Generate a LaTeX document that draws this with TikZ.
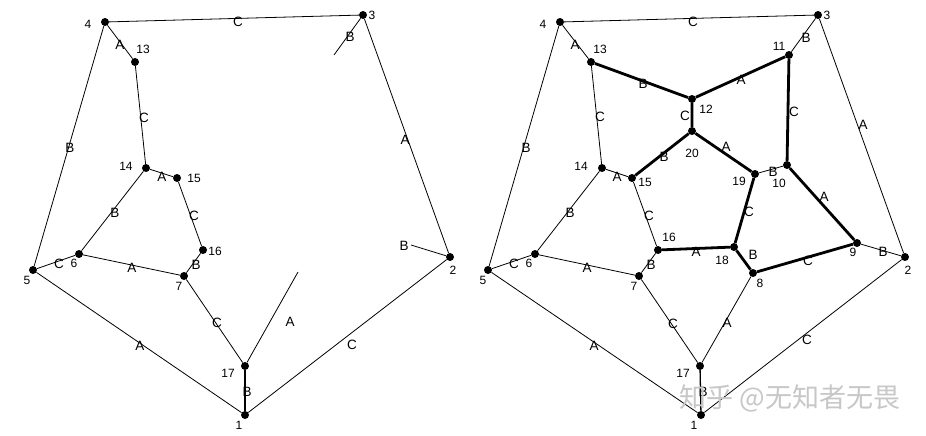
\documentclass[tikz,border=0pt]{standalone}
\usepackage{fontspec}
\setmainfont{Liberation Sans}
\newfontfamily\cjkfont{Noto Sans CJK SC}
\begin{document}
\begin{tikzpicture}[x=1pt,y=-1pt,
  dot/.style={circle,fill=black,inner sep=0pt,minimum size=8pt},
  thin/.style={line width=0.8pt},
  thick3/.style={line width=2.8pt},
  lbl/.style={font=\fontsize{13.5}{14}\selectfont,inner sep=0pt},
  num/.style={font=\fontsize{12}{13}\selectfont,inner sep=0pt}]
\fill[white] (0,0) rectangle (926,436);
\useasboundingbox (0,0) rectangle (926,436);
% ---------------- left graph ----------------
\foreach \n/\x/\y in {1/245/415,2/450/257,3/363/15,4/105/22,5/33/270,6/79/254,7/184/276,
  13/135/62,14/146/168,15/177/178,16/203/250,17/245/366}
  \node[dot] (L\n) at (\x,\y) {};
\coordinate (Ld3) at (334,55);
\coordinate (Ld2) at (411,245);
\coordinate (Ld17) at (298,272);
\draw[thin] (L4)--(L3) (L4)--(L13) (L4)--(L5) (L3)--(L2) (L13)--(L14) (L14)--(L15)
  (L14)--(L6) (L15)--(L16) (L16)--(L7) (L6)--(L7) (L5)--(L6) (L5)--(L1) (L7)--(L17)
  (L1)--(L2) (L3)--(Ld3) (L2)--(Ld2) (L17)--(Ld17);
\draw[line width=1.3pt] (L17)--(L1);
\foreach \t/\x/\y in {C/238/22,A/120/45,B/70/148,B/350/37,C/144/118,A/162/177,B/115/213,
  C/194/216,B/196/265,A/132/268,C/59/264,A/140/346,C/217/323,B/247/392,C/352/345,
  A/405/140,B/404/246,A/290/322}
  \node[lbl] at (\x,\y) {\t};
\foreach \t/\x/\y in {1/239/425,2/453/270,3/372/15,4/88/24,5/27/280,6/74/263,7/179/286,
  13/143/49,14/126/166,15/194/178,16/215/251,17/228/373}
  \node[num] at (\x,\y) {\t};
% ---------------- right graph ----------------
\foreach \n/\x/\y in {1/701/415,2/905/257,3/818/15,4/560/22,5/488/270,6/535/254,7/639/276,
  8/753/273,9/857/243,10/787/165,11/789/55,12/692/99,13/591/62,14/602/168,15/632/178,
  16/658/250,17/700/366,18/734/247,19/755/174,20/692/131}
  \node[dot] (R\n) at (\x,\y) {};
\draw[thin] (R4)--(R3) (R4)--(R13) (R4)--(R5) (R3)--(R11) (R3)--(R2) (R13)--(R14)
  (R14)--(R15) (R14)--(R6) (R15)--(R16) (R16)--(R7) (R6)--(R7) (R5)--(R6) (R5)--(R1)
  (R7)--(R17) (R17)--(R8) (R1)--(R2) (R9)--(R2) (R19)--(R10);
\draw[line width=1.3pt] (R17)--(R1);
\draw[thick3] (R13)--(R12) (R12)--(R11) (R12)--(R20) (R20)--(R15) (R20)--(R19)
  (R11)--(R10) (R10)--(R9) (R19)--(R18) (R16)--(R18) (R18)--(R8) (R8)--(R9);
\foreach \t/\x/\y in {C/693/22,A/575/45,B/526/148,B/806/38,B/643/84,A/741/80,C/685/116,
  B/664/157,A/726/147,C/794/112,A/863/125,C/600/117,A/617/177,B/773/172,A/824/197,
  C/749/212,B/570/213,C/649/216,A/696/252,B/753/255,C/808/261,B/883/252,C/514/264,
  A/587/268,B/651/265,C/673/324,A/727/323,A/594/346,C/807/340,B/703/392}
  \node[lbl] at (\x,\y) {\t};
\foreach \t/\x/\y in {1/694/425,2/908/270,3/827/15,4/543/24,5/483/280,6/529/263,7/634/286,
  8/760/283,9/853/252,10/779/183,11/779/46,12/706/109,13/600/49,14/581/166,15/645/182,
  16/669/237,17/683/373,18/722/260,19/739/181,20/692/153}
  \node[num] at (\x,\y) {\t};
% watermark
\node[font=\cjkfont\fontsize{27}{28}\selectfont,text=black!22,inner sep=0pt] (wm) at (790,398) {知乎 @无知者无畏};
\end{tikzpicture}
\end{document}
